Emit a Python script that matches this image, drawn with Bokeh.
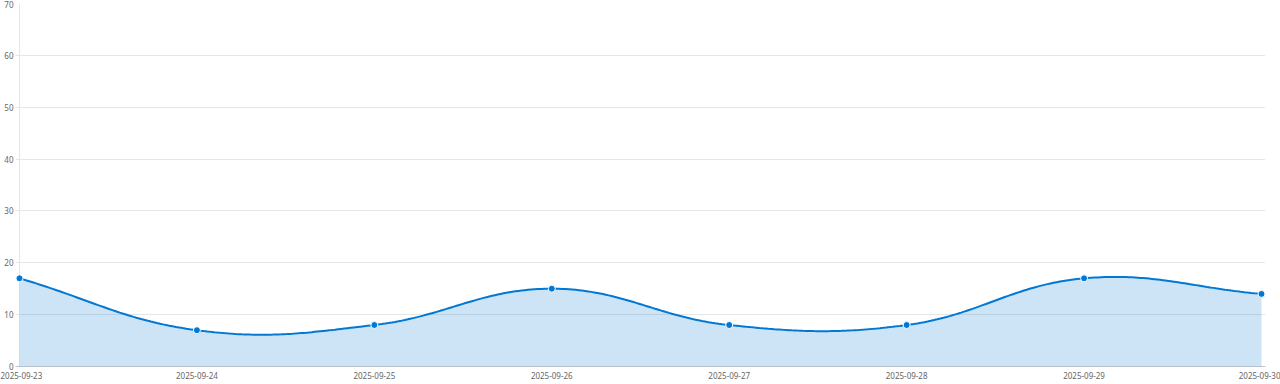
import numpy as np
from bokeh.plotting import figure
from bokeh.models import Range1d, FixedTicker, Span
from bokeh.embed import file_html
from bokeh.resources import INLINE

dates = ["2025-09-23", "2025-09-24", "2025-09-25", "2025-09-26",
         "2025-09-27", "2025-09-28", "2025-09-29", "2025-09-30"]
values = [17, 7, 8, 15, 8, 8, 17, 14]
y_ticks = [0, 10, 20, 30, 40, 50, 60, 70]

W, H = 1280, 384
PAD = 4
L, R, T, B = 19 - PAD, 19 - PAD, 3, 18
fw, fh = W - 2 * 19, H - T - B
xmax, ymax = len(dates) - 1, 70
xpad = PAD / fw * xmax

x = np.arange(len(dates), dtype=float)
y = np.array(values, dtype=float)

# Chart.js-like spline (tension 0.4) computed in screen space
px = x / xmax * fw
py = y / ymax * fh
t = 0.4
n = len(px)
cp_prev = np.zeros((n, 2)); cp_next = np.zeros((n, 2))
for i in range(n):
    p0 = np.array([px[max(i - 1, 0)], py[max(i - 1, 0)]])
    p1 = np.array([px[i], py[i]])
    p2 = np.array([px[min(i + 1, n - 1)], py[min(i + 1, n - 1)]])
    d01 = np.hypot(*(p1 - p0)); d12 = np.hypot(*(p2 - p1))
    s = d01 + d12
    s01 = d01 / s if s else 0; s12 = d12 / s if s else 0
    cp_prev[i] = p1 - t * s01 * (p2 - p0)
    cp_next[i] = p1 + t * s12 * (p2 - p0)
cx, cy = [], []
u = np.linspace(0, 1, 60)
for i in range(n - 1):
    P0 = np.array([px[i], py[i]]); P3 = np.array([px[i + 1], py[i + 1]])
    P1 = cp_next[i]; P2 = cp_prev[i + 1]
    pts = ((1 - u)[:, None] ** 3) * P0 + 3 * ((1 - u)[:, None] ** 2) * u[:, None] * P1 \
        + 3 * (1 - u)[:, None] * (u[:, None] ** 2) * P2 + (u[:, None] ** 3) * P3
    cx.extend(pts[:, 0]); cy.extend(pts[:, 1])
sx = np.array(cx) / fw * xmax
sy = np.array(cy) / fh * ymax

p = figure(width=W, height=H, output_backend="svg", toolbar_location=None,
           x_range=Range1d(-xpad, xmax + xpad), y_range=Range1d(0, ymax),
           min_border_left=L, min_border_right=R, min_border_top=T, min_border_bottom=B)
p.outline_line_color = None
p.background_fill_color = "white"

p.add_layout(Span(location=0, dimension="height", line_color="#e6e6e6",
                  line_width=1, level="underlay"))
p.varea(x=sx, y1=0, y2=sy, fill_color="#0078d4", fill_alpha=0.2)
p.line(sx, sy, line_color="#0078d4", line_width=2)
p.scatter(x, y, size=7, fill_color="#0078d4", line_color="white", line_width=1)

p.xgrid.visible = False
p.ygrid.grid_line_color = "#e6e6e6"
p.ygrid.ticker = FixedTicker(ticks=y_ticks)

p.yaxis.ticker = FixedTicker(ticks=y_ticks)
p.yaxis.axis_line_color = None
p.yaxis.major_tick_line_color = None
p.yaxis.minor_tick_line_color = None
p.yaxis.major_tick_out = 0
p.yaxis.major_tick_in = 0
p.yaxis.minor_tick_out = 0
p.yaxis.axis_label_standoff = 0
p.yaxis.major_label_standoff = 2
p.yaxis.major_label_text_font = "Noto Sans"
p.yaxis.major_label_text_font_size = "8px"
p.yaxis.major_label_text_color = "#666666"

p.xaxis.ticker = FixedTicker(ticks=list(range(len(dates))))
p.xaxis.major_label_overrides = {i: d for i, d in enumerate(dates)}
p.xaxis.axis_line_color = "#b8c2cc"
p.xaxis.major_tick_line_color = None
p.xaxis.minor_tick_line_color = None
p.xaxis.major_tick_out = 0
p.xaxis.major_tick_in = 0
p.xaxis.minor_tick_out = 0
p.xaxis.axis_label_standoff = 0
p.xaxis.major_label_standoff = 5
p.xaxis.major_label_text_font = "Noto Sans"
p.xaxis.major_label_text_font_size = "8px"
p.xaxis.major_label_text_color = "#666666"

open("out.html", "w").write(file_html(p, INLINE))
